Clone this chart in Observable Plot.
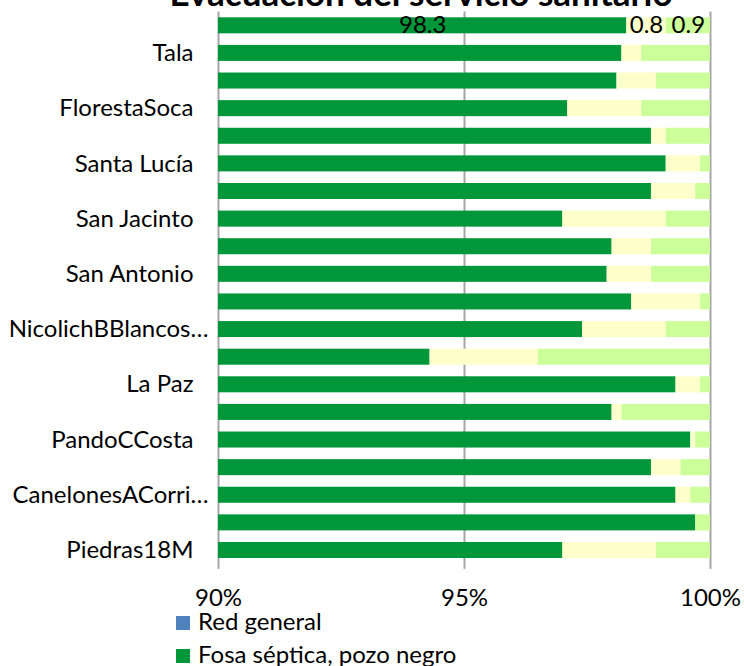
<!DOCTYPE html>
<html>
<head>
<meta charset="utf-8">
<script src="https://cdn.jsdelivr.net/npm/d3@7"></script>
<script src="https://cdn.jsdelivr.net/npm/@observablehq/plot@0.6"></script>
<style>
  html, body { margin: 0; padding: 0; background: #fff; }
  #wrap { position: relative; width: 744px; height: 666px; overflow: hidden; font-family: Lato, "Open Sans", sans-serif; }
  #title { position: absolute; left: 421px; top: -25px; transform: translateX(-50%); white-space: nowrap;
           font-weight: 700; font-size: 35px; line-height: 35px; color: #000; }
  .leg { position: absolute; left: 176px; font-size: 24px; line-height: 24px; color: #000; white-space: nowrap; }
  .leg span.sw { display: inline-block; width: 14px; height: 14px; margin-right: 8px; }
  #chart { position: absolute; left: 0; top: 0; }
</style>
</head>
<body>
<div id="wrap">
  <div id="chart"></div>
  <div id="title">Evacuación del servicio sanitario</div>
  <div id="legend"></div>
</div>
<script>
// Categories, top to bottom (only every other one is labelled in the chart)
const categories = [
  "SanRamón", "Tala", "Migues", "FlorestaSoca", "Sauce", "Santa Lucía",
  "Atlántida", "San Jacinto", "Toledo", "San Antonio", "SantaRosa",
  "NicolichBBlancos…", "SalinasPPlata", "La Paz", "Progreso", "PandoCCosta",
  "Suárez", "CanelonesACorri…", "SanBautista", "Piedras18M"
];
const labelledPlain = ["Tala", "FlorestaSoca", "Santa Lucía", "San Jacinto", "San Antonio", "La Paz", "PandoCCosta", "Piedras18M"];
const labelledEllipsis = ["NicolichBBlancos…", "CanelonesACorri…"];

const seriesNames = ["Red general", "Fosa séptica, pozo negro", "Entubado hacia arroyo", "Otro"];
const seriesColors = ["#4F81BD", "#00963A", "#FFFFCC", "#CCFF99"];

// Percent values per category (same order as categories)
const redGeneral = [0, 0, 0, 0, 0, 0, 0, 0, 0, 0, 0, 0, 0, 0, 0, 0, 0, 0, 0, 0];
const fosa       = [98.3, 98.2, 98.1, 97.1, 98.8, 99.1, 98.8, 97.0, 98.0, 97.9, 98.4, 97.4, 94.3, 99.3, 98.0, 99.6, 98.8, 99.3, 99.7, 97.0];
const entubado   = [0.8, 0.4, 0.8, 1.5, 0.3, 0.7, 0.9, 2.1, 0.8, 0.9, 1.4, 1.7, 2.2, 0.5, 0.2, 0.1, 0.6, 0.3, 0.0, 1.9];
const otro       = [0.9, 1.4, 1.1, 1.4, 0.9, 0.2, 0.3, 0.9, 1.2, 1.2, 0.2, 0.9, 3.5, 0.2, 1.8, 0.3, 0.6, 0.4, 0.3, 1.1];

const xTicks = [90, 95, 100];
const labelledCategory = "SanRamón"; // bar that carries data labels

const seriesValues = [redGeneral, fosa, entubado, otro];
const data = [];
categories.forEach((c, i) => {
  seriesNames.forEach((s, j) => data.push({cat: c, series: s, value: seriesValues[j][i]}));
});

// data labels for the labelled bar: centre of the visible part of each segment
const xMin = xTicks[0];
const labelData = [];
{
  const i = categories.indexOf(labelledCategory);
  let acc = 0;
  seriesValues.forEach((vals) => {
    const v = vals[i];
    const x1 = acc, x2 = acc + v;
    acc = x2;
    if (v > 0) labelData.push({cat: labelledCategory, x: (Math.max(x1, xMin) + x2) / 2, text: d3.format(".1f")(v)});
  });
}

const H = 612;
const chart = Plot.plot({
  width: 744,
  height: H,
  marginLeft: 218,
  marginRight: 34,
  marginTop: 11.5,
  marginBottom: H - 563.8,
  style: {fontFamily: "Lato, 'Open Sans', sans-serif", fontSize: "24px", color: "#000", background: "#fff"},
  x: {domain: [90, 100]},
  y: {domain: categories, paddingInner: 0.42, paddingOuter: 0.21, round: false},
  color: {domain: seriesNames, range: seriesColors},
  marks: [
    Plot.ruleX(xTicks, {stroke: "#A6A6A6", strokeWidth: 2}),
    Plot.barX(data, {y: "cat", x: "value", fill: "series", order: seriesNames, clip: true}),
    Plot.text(labelData, {x: "x", y: "cat", text: "text", fill: "#000", fontSize: 24}),
    Plot.axisX(xTicks, {tickFormat: d => d + "%", tickSize: 5, tickPadding: 20, stroke: "#A6A6A6", strokeWidth: 2, fill: "#000", fontSize: 24, label: null}),
    Plot.axisY(labelledPlain, {tickSize: 0, tickPadding: 25, fill: "#000", fontSize: 24, label: null}),
    Plot.axisY(labelledEllipsis, {tickSize: 0, tickPadding: 10, fill: "#000", fontSize: 24, label: null})
  ]
});
document.getElementById("chart").appendChild(chart);

// legend (only the first two entries are visible in the reference)
const legendItems = [
  {name: seriesNames[0], color: seriesColors[0], top: 608.7},
  {name: seriesNames[1], color: seriesColors[1], top: 641.7}
];
const leg = document.getElementById("legend");
legendItems.forEach(it => {
  const div = document.createElement("div");
  div.className = "leg";
  div.style.top = it.top + "px";
  const sw = document.createElement("span");
  sw.className = "sw";
  sw.style.background = it.color;
  div.appendChild(sw);
  div.appendChild(document.createTextNode(it.name));
  leg.appendChild(div);
});
</script>
</body>
</html>
